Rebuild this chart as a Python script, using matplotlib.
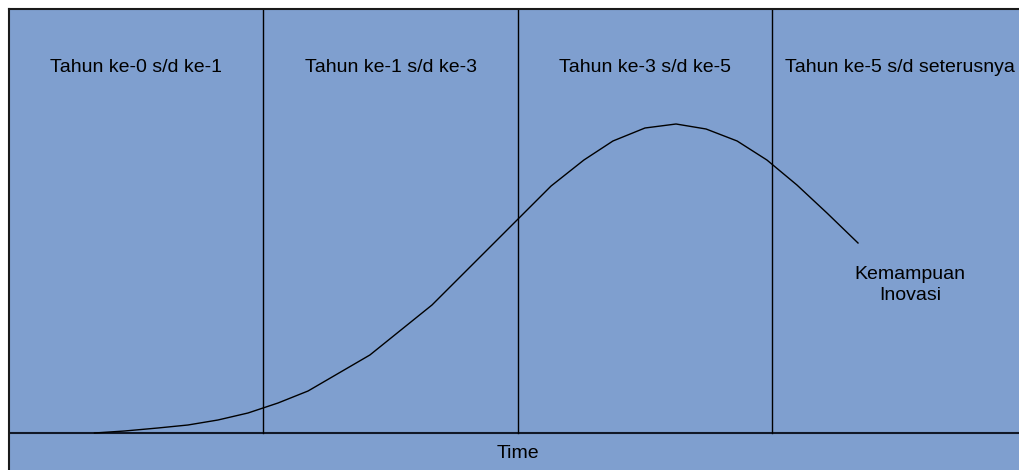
import matplotlib.pyplot as plt

# Phase labels across the top
phases = ['Tahun ke-0 s/d ke-1', 'Tahun ke-1 s/d ke-3',
          'Tahun ke-3 s/d ke-5', 'Tahun ke-5 s/d seterusnya']
boundaries = [1, 2, 3]

# Innovation capability curve (x in phase units, y in height units)
curve_x = [0.336, 0.454, 0.585, 0.703, 0.821, 0.939, 1.057, 1.175,
           1.418, 1.662, 2.130, 2.259, 2.373, 2.499, 2.621, 2.739,
           2.861, 2.978, 3.096, 3.214, 3.336]
curve_y = [0, 2, 5, 8, 13, 20, 30, 42, 78, 128, 247, 273, 292, 305,
           309, 304, 292, 273, 248, 220, 190]

plt.rcParams['font.family'] = ['Liberation Sans', 'DejaVu Sans']
fig = plt.figure(figsize=(10.2, 4.7), dpi=100)
# axes run past the right edge of the canvas, as in the reference
ax = fig.add_axes([9 / 1020, 0, 1020 / 1020, 461 / 470])
ax.set_facecolor('#7f9fcf')
ax.patch.set_edgecolor('none')
ax.set_xlim(0, 1020 / 254.5)
ax.set_ylim(-37, 424)
ax.set_xticks([])
ax.set_yticks([])
for s in ['right', 'bottom']:
    ax.spines[s].set_visible(False)
    ax.spines[s].set_color('none')
for s in ['left', 'top']:
    ax.spines[s].set_color('#1a1a1a')
    ax.spines[s].set_linewidth(1.5)

# baseline and phase dividers
ax.axhline(0, color='#111827', lw=1.5)
for b in boundaries:
    ax.plot([b, b], [0, 424], color='black', lw=1)

ax.plot(curve_x, curve_y, color='black', lw=1)

centers = [0.5, 1.5, 2.5, 3.5]
for c, p in zip(centers, phases):
    ax.text(c, 365, p, ha='center', va='center', fontsize=14)

ax.text(2.0, -20, 'Time', ha='center', va='center', fontsize=14)
ax.text(3.54, 148, 'Kemampuan\nInovasi', ha='center', va='center',
        fontsize=14, linespacing=1.25)

fig.savefig('out.png', dpi=100)
